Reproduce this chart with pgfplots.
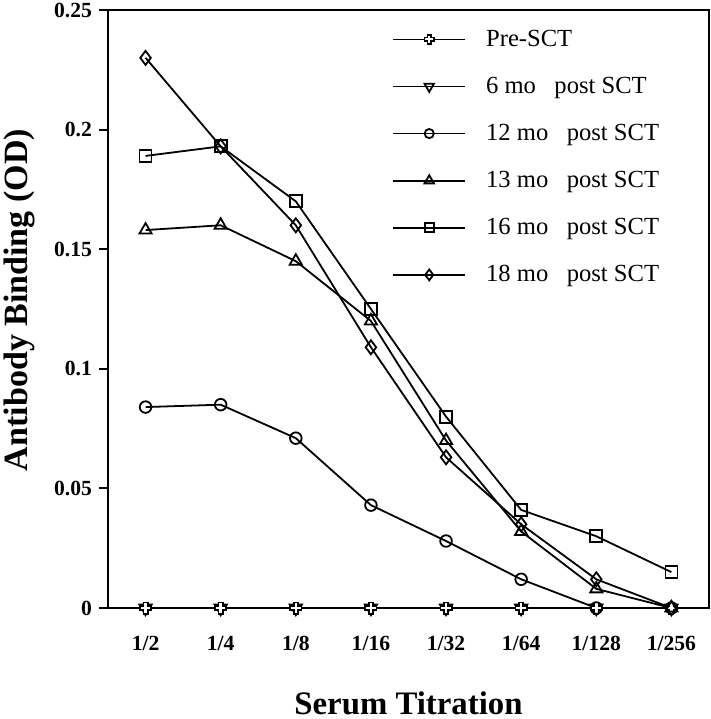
\documentclass[border=0pt]{standalone}
\usepackage{fontspec}
\setmainfont{Liberation Serif}
\usepackage{pgfplots}
\pgfplotsset{compat=1.18}
\usetikzlibrary{calc}

\pgfdeclareplotmark{hplus}{%
  \pgfmathsetlengthmacro{\ms}{\pgfplotmarksize}%
  \pgfmathsetlengthmacro{\ma}{0.38*\pgfplotmarksize}%
  \pgfpathmoveto{\pgfpoint{-\ma}{\ms}}%
  \pgfpathlineto{\pgfpoint{\ma}{\ms}}%
  \pgfpathlineto{\pgfpoint{\ma}{\ma}}%
  \pgfpathlineto{\pgfpoint{\ms}{\ma}}%
  \pgfpathlineto{\pgfpoint{\ms}{-\ma}}%
  \pgfpathlineto{\pgfpoint{\ma}{-\ma}}%
  \pgfpathlineto{\pgfpoint{\ma}{-\ms}}%
  \pgfpathlineto{\pgfpoint{-\ma}{-\ms}}%
  \pgfpathlineto{\pgfpoint{-\ma}{-\ma}}%
  \pgfpathlineto{\pgfpoint{-\ms}{-\ma}}%
  \pgfpathlineto{\pgfpoint{-\ms}{\ma}}%
  \pgfpathlineto{\pgfpoint{-\ma}{\ma}}%
  \pgfpathclose
  \pgfusepathqfillstroke}

\pgfplotstableread{
x pre six twelve thirteen sixteen eighteen
0 0 0 0.084 0.158 0.189 0.230
1 0 0 0.085 0.160 0.193 0.193
2 0 0 0.071 0.145 0.170 0.160
3 0 0 0.043 0.120 0.125 0.109
4 0 0 0.028 0.070 0.080 0.063
5 0 0 0.012 0.032 0.041 0.035
6 0 0 0.000 0.008 0.030 0.012
7 0 0 0.000 0.000 0.015 0.000
}\data

\begin{document}
\begin{tikzpicture}
\begin{axis}[
  name=ax,
  scale only axis,
  width=300.5pt, height=299pt,
  xmin=-0.5, xmax=7.5,
  ymin=0, ymax=0.25,
  axis line style={line width=1pt},
  xtick={0,1,2,3,4,5,6,7},
  xticklabels={1/2,1/4,1/8,1/16,1/32,1/64,1/128,1/256},
  xtick style={draw=none},
  ytick={0,0.05,0.1,0.15,0.2,0.25},
  yticklabels={0,0.05,0.1,0.15,0.2,0.25},
  ytick pos=left,
  tick align=outside,
  major tick length=4.5pt,
  ytick style={line width=1pt, black},
  tick label style={font=\bfseries\fontsize{10.8}{12}\selectfont},
  xticklabel style={yshift=-6pt},
  xlabel={Serum Titration},
  ylabel={Antibody Binding (OD)},
  xlabel style={font=\bfseries\fontsize{16.4}{19}\selectfont, at={(axis description cs:0.5,-0.1589)}, anchor=center},
  ylabel style={font=\bfseries\fontsize{17}{20}\selectfont, at={(axis description cs:-0.148,0.515)}, anchor=center},
  every axis plot/.append style={black, line width=0.9pt, mark options={fill=white, solid, line width=0.9pt}},
  legend cell align=left,
  legend style={draw=none, fill=none, at={(rel axis cs:0.4625,0.981)}, anchor=north west,
    font=\fontsize{12.3}{14}\selectfont, row sep=9.9pt,
    /tikz/every odd column/.append style={column sep=8pt}},
  legend image code/.code={\draw[black, line width=0.9pt, mark repeat=2, mark phase=2] plot coordinates {(0pt,0pt) (18pt,0pt) (36pt,0pt)};},
]
% legend entries
\addlegendimage{black, line width=0.9pt, mark=hplus, mark size=2.4pt, mark options={fill=white, line width=0.9pt}}
\addlegendentry{Pre-SCT}
\addlegendimage{black, line width=0.9pt, mark=triangle, mark size=2.7pt, mark options={rotate=180, fill=white, line width=0.9pt}}
\addlegendentry{6 mo\ \ \ post SCT}
\addlegendimage{black, line width=0.9pt, mark=o, mark size=2.3pt, mark options={fill=white, line width=0.9pt}}
\addlegendentry{12 mo\ \ \ post SCT}
\addlegendimage{black, line width=0.9pt, mark=triangle, mark size=2.7pt, mark options={fill=white, line width=0.9pt}}
\addlegendentry{13 mo\ \ \ post SCT}
\addlegendimage{black, line width=0.9pt, mark=square, mark size=2.2pt, mark options={fill=white, line width=0.9pt}}
\addlegendentry{16 mo\ \ \ post SCT}
\addlegendimage{black, line width=0.9pt, mark=diamond, mark size=2.7pt, mark options={fill=white, line width=0.9pt}}
\addlegendentry{18 mo\ \ \ post SCT}
% plots
\addplot[forget plot, mark=triangle, mark size=3.6pt, mark options={rotate=180, fill=white}] table[x=x, y=six] {\data};
\addplot[forget plot, mark=hplus, mark size=2.8pt] table[x=x, y=pre] {\data};
\addplot[forget plot, mark=o, mark size=2.9pt] table[x=x, y=twelve] {\data};
\addplot[forget plot, mark=triangle, mark size=3.5pt] table[x=x, y=thirteen] {\data};
\addplot[forget plot, mark=square, mark size=3.0pt] table[x=x, y=sixteen] {\data};
\addplot[forget plot, mark=diamond, mark size=3.5pt] table[x=x, y=eighteen] {\data};
\end{axis}
\pgfresetboundingbox
\path[use as bounding box] ($(ax.south west)+(-54pt,-55.5pt)$) rectangle ($(ax.north east)+(1pt,5pt)$);
\end{tikzpicture}
\end{document}
